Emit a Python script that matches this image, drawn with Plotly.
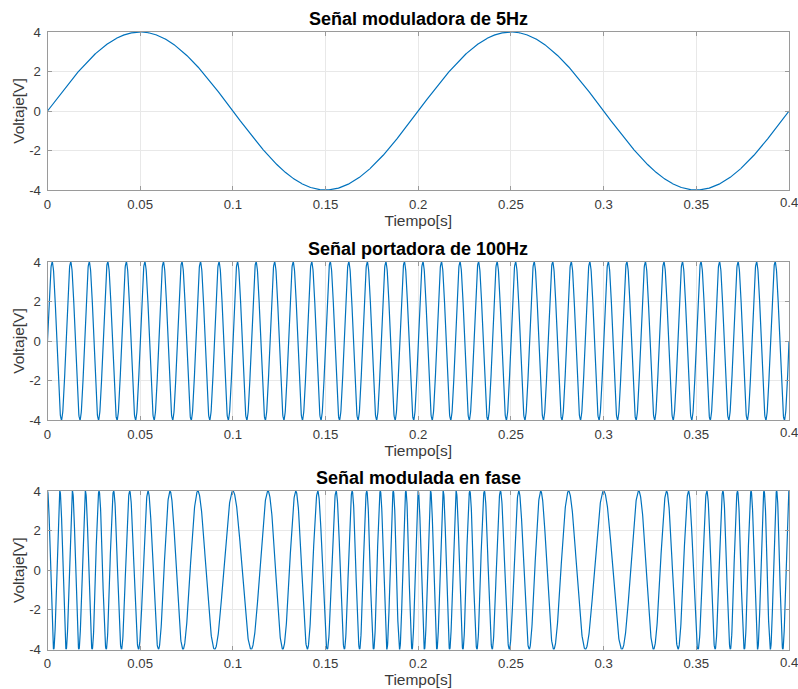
import numpy as np
import plotly.graph_objects as go

# Values
titles = ["Señal moduladora de 5Hz", "Señal portadora de 100Hz", "Señal modulada en fase"]
x_label = "Tiempo[s]"
y_label = "Voltaje[V]"
x_ticks = [0, 0.05, 0.1, 0.15, 0.2, 0.25, 0.3, 0.35, 0.4]
x_tick_text = ["0", "0.05", "0.1", "0.15", "0.2", "0.25", "0.3", "0.35", "0.4"]
y_ticks = [-4, -2, 0, 2, 4]
y_tick_text = ["-4", "-2", "0", "2", "4"]
amplitude = 4.0          # V, both signals
f_mod = 5.0              # Hz
f_carrier = 100.0        # Hz
k_phase = 2.5            # rad/V, read from spacing of the modulated peaks
t_end = 0.4
n_samples = 4001

t = np.linspace(0, t_end, n_samples)
modulating = amplitude * np.sin(2 * np.pi * f_mod * t)
carrier = amplitude * np.sin(2 * np.pi * f_carrier * t)
modulated = amplitude * np.cos(2 * np.pi * f_carrier * t + k_phase * modulating)
series = [modulating, carrier, modulated]

W, H = 798, 689
left, right = 47.5, 789.0
tops = [32.0, 262.0, 491.0]
bottoms = [190.0, 420.0, 649.5]

fig = go.Figure()
font_family = "Liberation Sans, Arial, sans-serif"
text_color = "#3a3a3a"
axis_color = "#9a9a9a"
grid_color = "#e8e8e8"
tick_size = 13.2

# the last tick label sits past the paper edge; draw it as data-anchored text
shown_tick_text = x_tick_text[:-1] + [""]

for i, y in enumerate(series):
    xa = "x" if i == 0 else f"x{i+1}"
    ya = "y" if i == 0 else f"y{i+1}"
    fig.add_trace(go.Scatter(x=t, y=y, mode="lines", xaxis=xa, yaxis=ya,
                             line=dict(color="#0072BD", width=1.2), showlegend=False))
    xd = [left / W, right / W]
    yd = [1 - bottoms[i] / H, 1 - tops[i] / H]
    common = dict(showline=True, mirror="ticks", linecolor=axis_color, linewidth=1,
                  showgrid=True, gridcolor=grid_color, gridwidth=1, zeroline=False,
                  ticks="inside", ticklen=4, tickcolor=axis_color, automargin=False,
                  tickfont=dict(family=font_family, size=tick_size, color=text_color))
    xkey = "xaxis" if i == 0 else f"xaxis{i+1}"
    ykey = "yaxis" if i == 0 else f"yaxis{i+1}"
    fig.update_layout(**{
        xkey: dict(domain=xd, anchor=ya, range=[0, t_end], tickvals=x_ticks,
                   ticktext=shown_tick_text, ticklabelstandoff=2,
                   title=dict(text=x_label, standoff=2,
                              font=dict(family=font_family, size=15.5, color=text_color)),
                   **common),
        ykey: dict(domain=yd, anchor=xa, range=[-4, 4], tickvals=y_ticks,
                   ticktext=y_tick_text, ticklabelstandoff=3,
                   title=dict(text=y_label, standoff=0,
                              font=dict(family=font_family, size=15.5, color=text_color)),
                   **common),
    })
    fig.add_annotation(text=x_tick_text[-1], xref=xa, yref="paper",
                       x=x_ticks[-1], y=1 - (bottoms[i] + 3) / H,
                       xanchor="center", yanchor="top", showarrow=False,
                       font=dict(family=font_family, size=tick_size, color=text_color))
    fig.add_annotation(text=f"<b>{titles[i]}</b>", xref="paper", yref="paper",
                       x=(left + right) / 2 / W, y=1 - (tops[i] - 1) / H,
                       xanchor="center", yanchor="bottom", showarrow=False,
                       font=dict(family=font_family, size=18, color="#000000"))

fig.update_layout(width=W, height=H, margin=dict(l=0, r=0, t=0, b=0),
                  paper_bgcolor="white", plot_bgcolor="white")
fig.write_html("out.html")
